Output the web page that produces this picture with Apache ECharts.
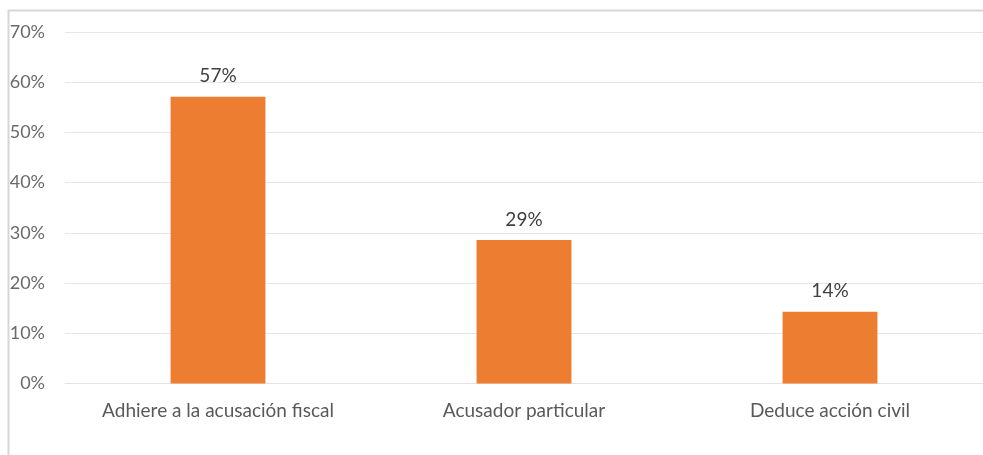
<!DOCTYPE html>
<html>
<head>
<meta charset="utf-8">
<script src="https://cdn.jsdelivr.net/npm/echarts@6/dist/echarts.min.js"></script>
<style>
html,body{margin:0;padding:0;background:#fff;}
#chart{width:983px;height:455px;}
</style>
</head>
<body>
<div id="chart"></div>
<script>
var categories = ['Adhiere a la acusación fiscal', 'Acusador particular', 'Deduce acción civil'];
var values = [57.1, 28.6, 14.3];
var yTicks = [0, 10, 20, 30, 40, 50, 60, 70];

var chart = echarts.init(document.getElementById('chart'));
var font = 'Lato, "Open Sans", sans-serif';
chart.setOption({
  animation: false,
  graphic: [{
    type: 'rect',
    left: 6, top: 8,
    shape: { width: 1100, height: 600 },
    style: { fill: 'none', stroke: '#d6d6d6', lineWidth: 2 },
    silent: true, z: -1
  }],
  grid: { left: 65, top: 32, width: 921, height: 351.5, containLabel: false },
  xAxis: {
    type: 'category',
    data: categories,
    axisLine: { show: true, lineStyle: { color: '#e3e3e3', width: 1 } },
    axisTick: { show: false },
    axisLabel: { color: '#595959', fontFamily: font, fontSize: 19, margin: 18 }
  },
  yAxis: {
    type: 'value',
    min: yTicks[0], max: yTicks[yTicks.length - 1], interval: 10,
    axisLine: { show: false },
    axisTick: { show: false },
    splitLine: { lineStyle: { color: '#e6e6e6', width: 1 } },
    axisLabel: { color: '#6a6a6a', fontFamily: font, fontSize: 18, margin: 20, formatter: '{value}%' }
  },
  series: [{
    type: 'bar',
    data: values,
    barWidth: '31%',
    itemStyle: { color: '#ED7D31' },
    label: {
      show: true, position: 'top', distance: 11,
      color: '#404040', fontFamily: font, fontSize: 19,
      formatter: function (p) { return Math.round(p.value) + '%'; }
    }
  }]
});
</script>
</body>
</html>
